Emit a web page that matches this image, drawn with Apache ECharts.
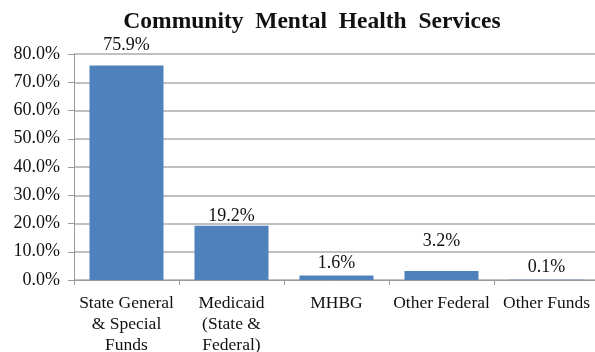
<!DOCTYPE html>
<html>
<head>
<meta charset="utf-8">
<script src="https://cdn.jsdelivr.net/npm/echarts@6/dist/echarts.min.js"></script>
<style>html,body{margin:0;padding:0;background:#fff}#c{width:595px;height:352px}</style>
</head>
<body>
<div id="c"></div>
<script>
var titleText = "Community  Mental  Health  Services";
var categories = ["State General\n& Special\nFunds", "Medicaid\n(State &\nFederal)", "MHBG", "Other Federal", "Other Funds"];
var values = [75.9, 19.2, 1.6, 3.2, 0.1];
var yTicks = [0, 10, 20, 30, 40, 50, 60, 70, 80];

var labelNudge = [-9, 2, -1, -19, -1];
var font = "'Liberation Serif', 'Times New Roman', serif";
var chart = echarts.init(document.getElementById('c'), null, {renderer: 'canvas'});
chart.setOption({
  animation: false,
  title: {
    text: titleText, left: 307, textAlign: 'center', top: 5,
    textStyle: {fontFamily: font, fontWeight: 'bold', fontSize: 23.5, color: '#111'}
  },
  grid: {left: 74, right: -4, top: 54, bottom: 72, containLabel: false, outerBoundsMode: 'none'},
  xAxis: {
    type: 'category', data: categories,
    axisLine: {lineStyle: {color: '#9a9a9a', width: 1}},
    axisTick: {show: true, alignWithLabel: false, length: 5, lineStyle: {color: '#9a9a9a'}},
    axisLabel: {fontFamily: font, fontSize: 17.5, color: '#111', lineHeight: 21, margin: 13, interval: 0}
  },
  yAxis: {
    type: 'value', min: yTicks[0], max: yTicks[yTicks.length - 1], interval: yTicks[1] - yTicks[0],
    axisLine: {show: true, lineStyle: {color: '#9a9a9a'}},
    axisTick: {show: true, length: 6, lineStyle: {color: '#9a9a9a'}},
    splitLine: {lineStyle: {color: '#ababab', width: 1.5}},
    axisLabel: {fontFamily: font, fontSize: 18, color: '#111', margin: 14,
      formatter: function (v) { return v.toFixed(1) + '%'; }}
  },
  series: [{
    type: 'bar', barWidth: '70.5%',
    itemStyle: {color: '#4f81bd'},
    data: values.map(function (v, i) {
      return {value: v, label: {offset: [0, labelNudge[i]]}};
    }),
    label: {show: true, position: 'top', distance: 2, fontFamily: font, fontSize: 18, color: '#111',
      formatter: function (p) { return p.value.toFixed(1) + '%'; }}
  }]
});
</script>
</body>
</html>
